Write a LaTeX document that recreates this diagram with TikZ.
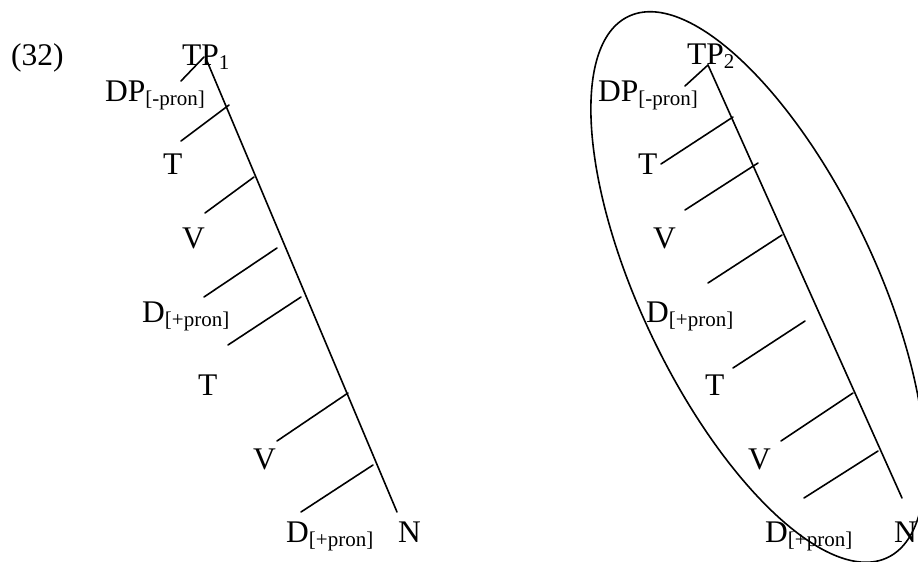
\documentclass[tikz,border=0pt]{standalone}
\usepackage{fontspec}
\setmainfont{Liberation Serif}
\newcommand{\lsub}[1]{\raisebox{-4.5pt}{\fontsize{21}{21}\selectfont #1}}
\begin{document}
\begin{tikzpicture}[x=1pt,y=-1pt,
  lbl/.style={anchor=base west, inner sep=0pt, font=\fontsize{31.5}{31.5}\selectfont},
  br/.style={line width=1.6pt, line cap=round},
  ring/.style={line width=1.6pt}]
\useasboundingbox (0,0) rectangle (918,562);
\clip (0,0) rectangle (918,562);
% example number
\node[lbl] (ex) at (11,65) {(32)};
% left tree labels
\node[lbl] (tpA) at (182,65) {TP\lsub{1}};
\node[lbl] (dpA) at (105,101) {DP\lsub{[-pron]}};
\node[lbl] (tA1) at (163,174) {T};
\node[lbl] (vA1) at (182,248) {V};
\node[lbl] (dA1) at (142,322) {D\lsub{[+pron]}};
\node[lbl] (tA2) at (198,395) {T};
\node[lbl] (vA2) at (253,469) {V};
\node[lbl] (dA2) at (286,542) {D\lsub{[+pron]}};
\node[lbl] (nA) at (398,542) {N};
% right tree labels
\node[lbl] (tpB) at (687,64) {TP\lsub{2}};
\node[lbl] (dpB) at (598,101) {DP\lsub{[-pron]}};
\node[lbl] (tB1) at (638,174) {T};
\node[lbl] (vB1) at (653,248) {V};
\node[lbl] (dB1) at (646,322) {D\lsub{[+pron]}};
\node[lbl] (tB2) at (705,395) {T};
\node[lbl] (vB2) at (748,469) {V};
\node[lbl] (dB2) at (765,542) {D\lsub{[+pron]}};
\node[lbl] (nB) at (894,542) {N};
% branches
\foreach \n/\ax/\ay/\bx/\by in {
  la0/207/61/397/512, la1/204/57/181/81, la2/229/105/181/141, la3/254/177/205/213,
  la4/277/248/204/297, la5/301/297/228/345, la6/348/393/277/441, la7/373/465/301/512,
  rb0/708/65/902/498, rb1/708/65/685/86, rb2/733/117/661/164, rb3/758/163/685/210,
  rb4/782/235/708/283, rb5/805/321/733/368, rb6/853/393/781/441, rb7/878/451/804/498}{
  \coordinate (\n s) at (\ax,\ay);
  \coordinate (\n e) at (\bx,\by);
  \draw[br] (\n s) -- (\n e);
}
% enclosing ellipse
\coordinate (ec) at (758,287);
\draw[ring, rotate around={-64.4:(ec)}] (ec) ellipse [x radius=300pt, y radius=117pt];
\end{tikzpicture}
\end{document}
